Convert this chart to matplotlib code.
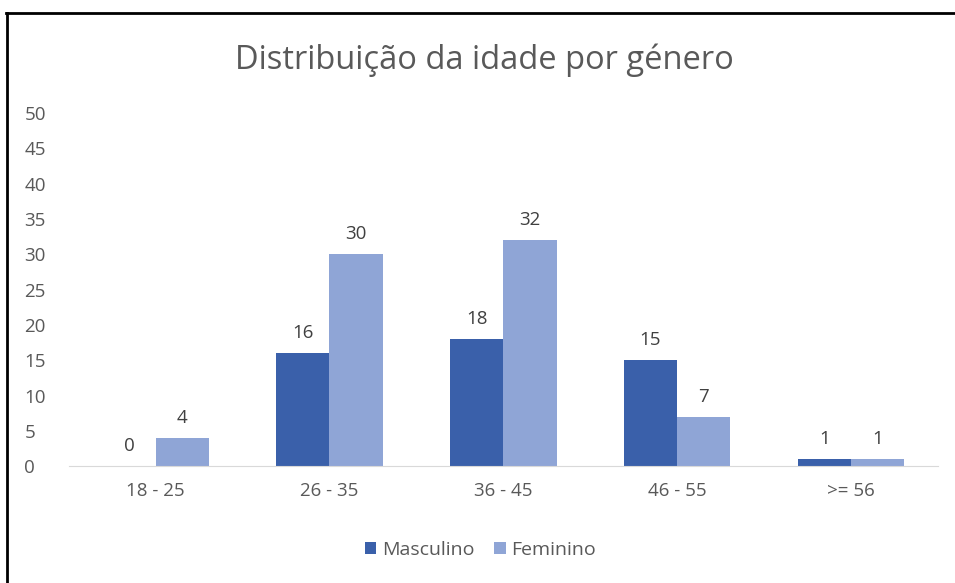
import matplotlib.pyplot as plt
from matplotlib.lines import Line2D
import numpy as np

plt.rcParams['font.family'] = ['Open Sans', 'DejaVu Sans']

faixas = ['18 - 25', '26 - 35', '36 - 45', '46 - 55', '>= 56']
masculino = [0, 16, 18, 15, 1]
feminino = [4, 30, 32, 7, 1]

cor_m = '#3A60AA'
cor_f = '#8FA5D6'
cinza = '#595959'

fig = plt.figure(figsize=(9.55, 5.83), dpi=100)
ax = fig.add_axes([0.072, 0.2, 0.910, 0.606])

x = np.arange(len(faixas))
w = 0.307
b1 = ax.bar(x - w / 2, masculino, w, color=cor_m, label='Masculino')
b2 = ax.bar(x + w / 2, feminino, w, color=cor_f, label='Feminino')

for bars, vals in [(b1, masculino), (b2, feminino)]:
    for bar, v in zip(bars, vals):
        ax.annotate(f'{v}', (bar.get_x() + bar.get_width() / 2, v),
                    textcoords='offset points', xytext=(0, 8),
                    ha='center', va='bottom', fontsize=13.5, color='#404040')

ax.set_xlim(-0.5, len(faixas) - 0.5)
ax.set_ylim(0, 50)
ax.set_yticks(range(0, 51, 5))
ax.set_xticks(x)
ax.set_xticklabels(faixas)
ax.tick_params(axis='both', length=0, labelsize=13.5, colors=cinza)
ax.tick_params(axis='x', pad=11)
ax.tick_params(axis='y', pad=32)
for t in ax.get_yticklabels():
    t.set_ha('left')
for s in ['top', 'right', 'left']:
    ax.spines[s].set_visible(False)
ax.spines['bottom'].set_color('#D9D9D9')

fig.text(0.507, 0.897, 'Distribuição da idade por género', ha='center',
         va='center', fontsize=23.5, color=cinza)

fig.legend(loc='center', bbox_to_anchor=(0.503, 0.057), ncol=2, frameon=False,
           fontsize=14, handlelength=0.6, handleheight=0.6, handletextpad=0.3,
           columnspacing=1.0, labelcolor=cinza)

# moldura (só topo e esquerda visíveis no original)
fig.add_artist(Line2D([0.006, 1.0], [0.977, 0.977], color='black', lw=2,
                      transform=fig.transFigure))
fig.add_artist(Line2D([0.007, 0.007], [0.0, 0.977], color='black', lw=2,
                      transform=fig.transFigure))

fig.savefig('out.png', dpi=100)
